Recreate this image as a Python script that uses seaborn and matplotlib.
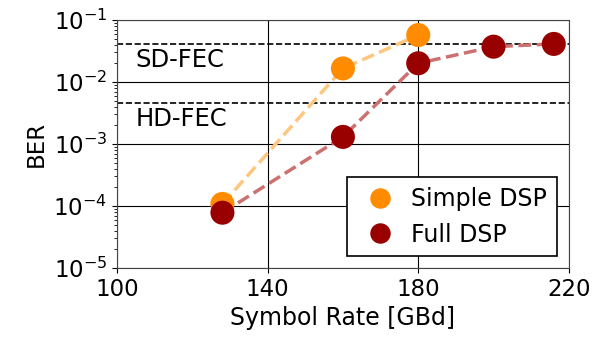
import numpy as np
import pandas as pd
import matplotlib
matplotlib.use("Agg")
import matplotlib.pyplot as plt
from matplotlib.ticker import LogLocator, NullFormatter
import seaborn as sns

# data
simple_rate = [128, 160, 180]
simple_ber = [1.08e-4, 1.65e-2, 5.7e-2]
full_rate = [128, 160, 180, 200, 216]
full_ber = [7.8e-5, 1.3e-3, 2.0e-2, 3.7e-2, 4.1e-2]
sd_fec = 4.1e-2
hd_fec = 4.5e-3

sns.set_style("ticks")
plt.rcParams['font.family'] = ['DejaVu Sans']
plt.rcParams['text.color'] = 'black'
plt.rcParams['axes.labelcolor'] = 'black'
plt.rcParams['xtick.color'] = 'black'
plt.rcParams['ytick.color'] = 'black'

df = pd.concat([
    pd.DataFrame({'rate': simple_rate, 'ber': simple_ber, 'dsp': 'Simple DSP'}),
    pd.DataFrame({'rate': full_rate, 'ber': full_ber, 'dsp': 'Full DSP'}),
])
colors = {'Simple DSP': '#ff8c00', 'Full DSP': '#990000'}
line_colors = {'Simple DSP': '#ffc680', 'Full DSP': '#cc7070'}

fig = plt.figure(figsize=(6.11, 3.49), dpi=100)
ax = fig.add_axes([0.1915, 0.232, 0.7395, 0.711])

for name, g in df.groupby('dsp', sort=False):
    ax.plot(g['rate'], g['ber'], ls='--', lw=2.5, color=line_colors[name], zorder=2)

sns.scatterplot(data=df, x='rate', y='ber', hue='dsp', palette=colors, s=300,
                edgecolor='none', ax=ax, zorder=3)

ax.axhline(sd_fec, color='black', ls='--', lw=1.2, zorder=1)
ax.axhline(hd_fec, color='black', ls='--', lw=1.2, zorder=1)
ax.text(105, sd_fec / 1.8, 'SD-FEC', fontsize=17.5, va='center')
ax.text(105, hd_fec / 1.8, 'HD-FEC', fontsize=17.5, va='center')

ax.set_yscale('log')
ax.set_ylim(1e-5, 1e-1)
ax.set_xlim(100, 220)
ax.set_xticks([100, 140, 180, 220])
ax.set_yticks([1e-5, 1e-4, 1e-3, 1e-2, 1e-1])
ax.yaxis.set_minor_locator(LogLocator(base=10, subs=np.arange(2, 10)))
ax.yaxis.set_minor_formatter(NullFormatter())
ax.grid(True, which='major', color='black', lw=0.8)
ax.tick_params(axis='both', which='major', labelsize=16.5)
ax.tick_params(axis='y', which='minor', length=2.5, width=0.6)
ax.set_xlabel('Symbol Rate [GBd]', fontsize=17)
ax.set_ylabel('BER', fontsize=16.5)
for s in ax.spines.values():
    s.set_color('#444444')

leg = ax.legend(loc='lower right', fontsize=17, frameon=True, fancybox=False,
                edgecolor='black', framealpha=1, markerscale=0.85,
                handletextpad=0.35, borderpad=0.4, labelspacing=0.5,
                bbox_to_anchor=(0.973, 0.048), borderaxespad=0)
leg.get_frame().set_linewidth(1.2)

fig.savefig('out.png', dpi=100)
